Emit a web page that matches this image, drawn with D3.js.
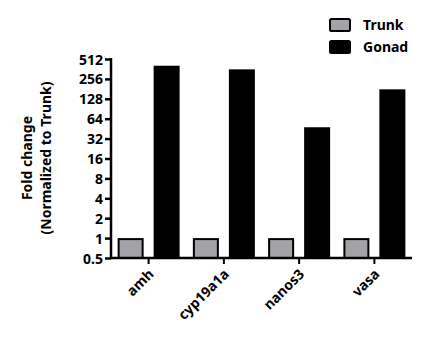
<!DOCTYPE html>
<html><head><meta charset="utf-8">
<script src="https://cdn.jsdelivr.net/npm/d3@7"></script>
<style>body{margin:0;background:#fff}svg{display:block}text{font-family:"Noto Sans",sans-serif;font-weight:bold}</style>
</head><body>
<script>
const categories = ["amh","cyp19a1a","nanos3","vasa"];
const seriesNames = ["Trunk","Gonad"];
const trunk = [1,1,1,1];
const gonad = [405,357,47.5,178];
const yTicks = [0.5,1,2,4,8,16,32,64,128,256,512];
const colors = {Trunk:"#a3a2a7", Gonad:"#000000"};

const W=424,H=340;
const svg=d3.select("body").append("svg").attr("width",W).attr("height",H);
const x0=111, x1=412, yTop=59, yBot=258;
const x=d3.scaleBand().domain(categories).range([x0,x1]).padding(0);
const y=d3.scaleLog().base(2).domain([0.5,512]).range([yBot,yTop]);
const bw=26, gap=10;

// bars
const data=categories.map((c,i)=>({c,vals:[trunk[i],gonad[i]]}));
const g=svg.append("g");
data.forEach(d=>{
  d.vals.forEach((v,j)=>{
    const cx=x(d.c)+x.bandwidth()/2;
    const left = j===0 ? cx-gap/2-bw : cx+gap/2;
    g.append("rect").attr("x",left+1).attr("y",y(v)+1)
     .attr("width",bw-2).attr("height",yBot-y(v)-1)
     .attr("fill",colors[seriesNames[j]]).attr("stroke","#000").attr("stroke-width",2);
  });
});

// y axis
const ya=svg.append("g").attr("transform",`translate(${x0},0)`)
  .call(d3.axisLeft(y).tickValues(yTicks).tickFormat(d=>d).tickSize(6).tickSizeOuter(0));
ya.select(".domain").attr("stroke","#000").attr("stroke-width",2.5);
ya.selectAll(".tick line").attr("stroke","#000").attr("stroke-width",2.5);
ya.selectAll(".tick text").attr("font-size",14).attr("font-family","Noto Sans").attr("font-weight","bold").attr("fill","#000").attr("x",-8).attr("dy","0.36em");
ya.select(".domain").attr("d",`M0,${yTop-1}V${yBot}`);

// x axis
const xa=svg.append("g").attr("transform",`translate(0,${yBot})`)
  .call(d3.axisBottom(x).tickSize(6).tickSizeOuter(0));
xa.select(".domain").attr("stroke","#000").attr("stroke-width",2.5).attr("d",`M${x0},0H${x1}`);
xa.selectAll(".tick line").attr("stroke","#000").attr("stroke-width",2);
xa.selectAll(".tick text").attr("font-size",14).attr("font-family","Noto Sans").attr("font-weight","bold").attr("fill","#000")
  .attr("text-anchor","end").attr("dy",0).attr("y",0)
  .attr("transform","translate(6,17) rotate(-45)");

// y label
const yl=svg.append("text").attr("transform","translate(32,158) rotate(-90)").attr("text-anchor","middle").attr("font-size",14).attr("fill","#000");
yl.append("tspan").attr("x",0).attr("y",0).text("Fold change");
yl.append("tspan").attr("x",0).attr("y",19).text("(Normalized to Trunk)");

// legend
const lg=svg.append("g");
seriesNames.forEach((s,i)=>{
  lg.append("rect").attr("x",330).attr("y",19+i*22).attr("width",20).attr("height",12).attr("rx",1.5)
    .attr("fill",colors[s]).attr("stroke","#000").attr("stroke-width",2);
  lg.append("text").attr("x",363).attr("y",30+i*22).attr("font-size",14).attr("fill","#000").text(s);
});
</script>
</body></html>
